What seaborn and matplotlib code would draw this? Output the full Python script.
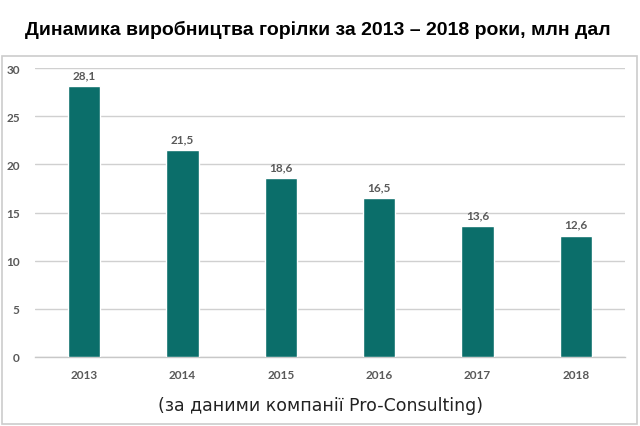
import matplotlib
matplotlib.use("Agg")
import matplotlib.pyplot as plt
import seaborn as sns
import pandas as pd
from matplotlib.patches import Rectangle

years = ["2013", "2014", "2015", "2016", "2017", "2018"]
values = [28.1, 21.5, 18.6, 16.5, 13.6, 12.6]
labels = ["28,1", "21,5", "18,6", "16,5", "13,6", "12,6"]
yticks = [0, 5, 10, 15, 20, 25, 30]

title = "Динамика виробництва горілки за 2013 – 2018 роки, млн дал"
caption = "(за даними компанії Pro-Consulting)"

sns.set_theme(style="white")
plt.rcParams['font.family'] = ['Lato', 'DejaVu Sans']

df = pd.DataFrame({"year": years, "value": values})

fig = plt.figure(figsize=(6.4, 4.27), dpi=100)
fig.patch.set_facecolor("white")
ax = fig.add_axes([35/640, (427-358)/427, 590/640, (358-69)/427])

sns.barplot(data=df, x="year", y="value", color="#0B6E6A", saturation=1,
            width=0.33, ax=ax, zorder=3)

ax.set_ylim(0, 30)
ax.set_yticks(yticks)
ax.set_yticklabels([str(t) for t in yticks])
ax.yaxis.grid(True, color="#D0D0D0", linewidth=1, zorder=0)
ax.set_axisbelow(True)
for s in ["top", "right", "left"]:
    ax.spines[s].set_visible(False)
ax.spines["bottom"].set_color("#C8C8C8")
ax.spines["bottom"].set_linewidth(1)
ax.set_xlabel("")
ax.set_ylabel("")
ax.tick_params(axis="both", length=0, labelsize=8.5, labelcolor="#595959")
ax.tick_params(axis="y", pad=11)
ax.tick_params(axis="x", pad=9)
for lab in ax.get_xticklabels() + ax.get_yticklabels():
    lab.set_fontweight("bold")

for i, (v, l) in enumerate(zip(values, labels)):
    ax.text(i, v + 0.6, l, ha="center", va="bottom", fontsize=8.5,
            color="#595959", fontweight="bold")

fig.text(318/640, 1 - 30/427, title, ha="center", va="center",
         fontsize=14, fontweight="bold", color="black",
         family=["Liberation Sans", "DejaVu Sans"])
fig.text(321/640, 1 - 406/427, caption, ha="center", va="center",
         fontsize=12.5, color="#222222", family=["DejaVu Sans"])

fig.patches.append(Rectangle((2/640, 2/427), 635/640, (425-57)/427,
                             transform=fig.transFigure, fill=False,
                             edgecolor="#CCCCCC", linewidth=1.2))

fig.savefig("out.png", dpi=100, facecolor="white")
